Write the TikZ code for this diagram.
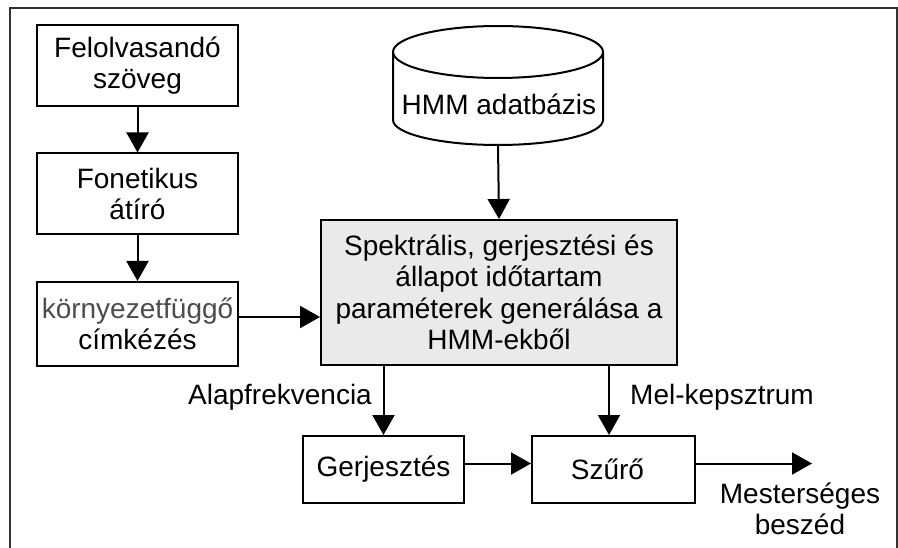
\documentclass[tikz,border=0pt]{standalone}
\usepackage{fontspec}
\setmainfont{Liberation Sans}
\usetikzlibrary{arrows.meta}
\definecolor{boxgray}{HTML}{EAEAEA}
\tikzset{
  txt/.style={font=\fontsize{28}{31.5}\selectfont, align=center, inner sep=0pt},
  blk/.style={draw, line width=2pt, inner sep=0pt, font=\fontsize{28}{31.5}\selectfont, align=center},
  arr/.style={line width=2pt, -{Triangle[length=20pt,width=22pt]}},
}
\begin{document}
\begin{tikzpicture}[x=1pt,y=-1pt]
\useasboundingbox (0,0) rectangle (898,548);
% frame
\draw[line width=1.2pt, black!80] (10,548) -- (10,8) -- (897,8) -- (897,548);
% left column
\node[blk, minimum width=201pt, minimum height=81pt] (felo) at (137.5,65.5) {Felolvasandó\\szöveg};
\node[blk, minimum width=201pt, minimum height=81pt] (fon) at (137.5,194) {Fonetikus\\átíró};
\node[blk, minimum width=201pt, minimum height=84pt] (korny) at (137.5,324) {\textcolor{black!70}{környezetfüggő}\\címkézés};
% database cylinder
\draw[line width=2pt, fill=white] (393,52) -- (393,120) arc[start angle=180, end angle=360, x radius=105pt, y radius=25pt] -- (603,52);
\draw[line width=2pt] (498,52) ellipse [x radius=105pt, y radius=26pt];
\node[minimum width=210pt, minimum height=120pt, inner sep=0pt] (db) at (498,85) {};
\node[txt] (dbtext) at (499,104) {HMM adatbázis};
% main box
\node[blk, fill=boxgray, minimum width=356pt, minimum height=145pt] (main) at (499,292.5) {Spektrális, gerjesztési és\\állapot időtartam\\paraméterek generálása a\\HMM-ekből};
% bottom boxes
\node[blk, minimum width=161pt, minimum height=67pt] (gerj) at (383.5,469.5) {Gerjesztés};
\node[blk, minimum width=163pt, minimum height=67pt] (szuro) at (613.5,469.5) {\hspace*{-12pt}Szűrő};
% labels
\node[txt] (alap) at (280,397) {Alapfrekvencia};
\node[txt] (mel) at (722,397) {Mel-kepsztrum};
\node[txt] (mest) at (800,509) {Mesterséges\\beszéd};
\coordinate (out) at (812,463.5);
% arrows
\draw[arr] (felo) -- (fon);
\draw[arr] (fon) -- (korny);
\draw[arr] ([yshift=7pt]korny.east) -- ([yshift=7pt]korny.east -| main.west);
\draw[arr] (db.south) -- (main.north);
\draw[arr] (main.south -| gerj.north) -- (gerj.north);
\draw[arr] ([xshift=-4.5pt]main.south -| szuro.north) -- ([xshift=-4.5pt]szuro.north);
\draw[arr] ([yshift=6pt]gerj.east) -- ([yshift=6pt]szuro.west);
\draw[arr] ([yshift=6pt]szuro.east) -- (out);
\end{tikzpicture}
\end{document}
